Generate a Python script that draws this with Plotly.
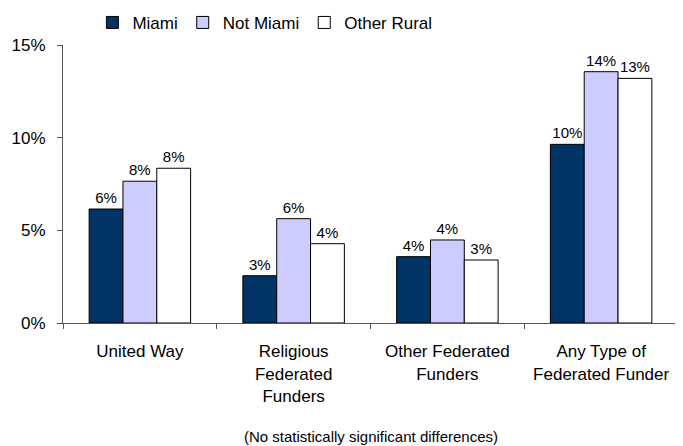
import plotly.graph_objects as go

categories = ["United Way", "Religious<br>Federated<br>Funders",
              "Other Federated<br>Funders", "Any Type of<br>Federated Funder"]
miami = [6.15, 2.55, 3.58, 9.64]
not_miami = [7.65, 5.63, 4.48, 13.56]
other_rural = [8.35, 4.28, 3.40, 13.20]

series = [("Miami", miami, "#003366"),
          ("Not Miami", not_miami, "#CCCCFF"),
          ("Other Rural", other_rural, "#FFFFFF")]

fig = go.Figure()
for name, vals, color in series:
    fig.add_trace(go.Bar(
        x=categories, y=vals, name=name,
        marker=dict(color=color, line=dict(color="#000000", width=1)),
        text=[f"{round(v)}%" for v in vals],
        textposition="outside", cliponaxis=False,
        textfont=dict(size=15, color="#000000"),
    ))

# page body has an 8px margin, so the figure is a bit smaller than the window
fig.update_layout(
    width=675, height=438,
    margin=dict(l=55, r=5, t=37, b=123, autoexpand=False),
    barmode="group", bargap=0.34, bargroupgap=0,
    plot_bgcolor="white", paper_bgcolor="white",
    font=dict(family="Liberation Sans, Arial, sans-serif", size=15, color="#000000"),
    showlegend=True,
    legend=dict(orientation="h", x=0.125, xref="container", xanchor="left",
                y=0.966, yref="container", yanchor="middle",
                font=dict(size=17), itemwidth=30, traceorder="normal"),
    annotations=[dict(text="(No statistically significant differences)",
                      x=0.5, xref="paper", y=-0.41, yref="paper",
                      xanchor="center", yanchor="middle", showarrow=False,
                      font=dict(size=15))],
)
fig.update_xaxes(showline=True, linecolor="#555555", linewidth=1,
                 ticks="outside", tickson="boundaries", ticklen=5,
                 tickcolor="#555555", showgrid=False,
                 ticklabelstandoff=13, tickfont=dict(size=17))
fig.update_yaxes(range=[0, 15], tickvals=[0, 5, 10, 15],
                 ticktext=["0%", "5%", "10%", "15%"],
                 showline=True, linecolor="#555555", linewidth=1,
                 ticks="outside", ticklen=5, tickcolor="#555555",
                 ticklabelstandoff=8,
                 showgrid=False, zeroline=False, tickfont=dict(size=17))

fig.write_html("out.html")
